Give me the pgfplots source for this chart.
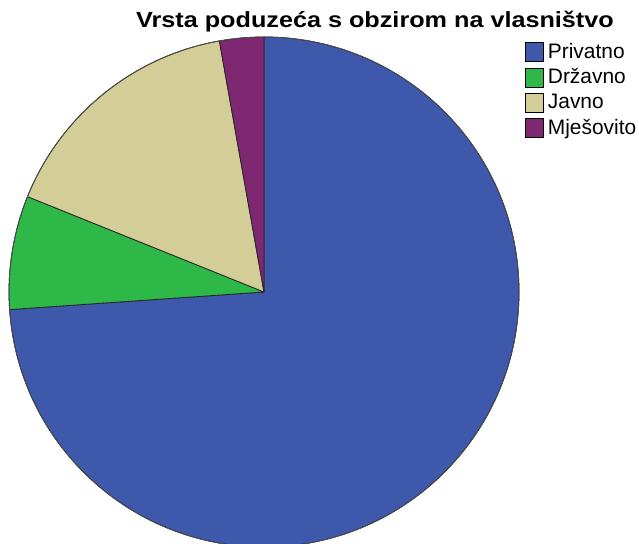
\documentclass[border=0pt]{standalone}
\usepackage{pgfplots}
\usepackage{pgfplotstable}
\pgfplotsset{compat=1.18}
\usepackage{fontspec}
\setmainfont{Liberation Sans}

\definecolor{priv}{HTML}{3E58AC}
\definecolor{drz}{HTML}{2EB848}
\definecolor{jav}{HTML}{D3CE97}
\definecolor{mje}{HTML}{7E2872}

% share of each ownership type, percent
\pgfplotstableread{
label value col
Privatno 73.9 priv
Državno 7.2 drz
Javno 16.1 jav
Mješovito 2.8 mje
}\piedata

\begin{document}
\begin{tikzpicture}
\useasboundingbox (-9bp,3bp) rectangle (630bp,547bp);
\begin{axis}[
    at={(0,0)}, anchor=south west,
    scale only axis,
    width=510bp, height=510bp,
    xmin=-1, xmax=1, ymin=-1, ymax=1,
    hide axis,
    clip=false,
    legend cell align=left,
    legend style={at={(rel axis cs:1.012,0.99)}, anchor=north west, draw=none,
        font=\fontsize{21}{24}\selectfont, fill=none,
        inner sep=0pt, row sep=5.3bp,
        nodes={text height=16bp, text depth=4bp, inner sep=0pt},
        /tikz/every odd column/.append style={column sep=4bp}},
    legend image code/.code={\draw[#1, draw=black, line width=0.6pt] (0bp,-9.5bp) rectangle (18bp,9.5bp);},
]
\pgfplotstablegetrowsof{\piedata}
\pgfmathtruncatemacro\lastrow{\pgfplotsretval-1}
\def\startangle{90}
\pgfplotsforeachungrouped \i in {0,...,\lastrow}{
  \pgfplotstablegetelem{\i}{value}\of\piedata \let\val\pgfplotsretval
  \pgfplotstablegetelem{\i}{col}\of\piedata \let\col\pgfplotsretval
  \pgfmathsetmacro\endangle{\startangle-3.6*\val}
  \edef\temp{\noexpand\filldraw[fill=\col, draw=black!85, line width=0.8pt, line join=round]
     (axis cs:0,0) -- (axis cs:{cos(\startangle)},{sin(\startangle)})
     arc[start angle=\startangle, end angle=\endangle, radius=1] -- cycle;}
  \temp
  \let\startangle\endangle
}
\draw[black!70, line width=0.8pt] (axis cs:0,0) circle[radius=1];
\pgfplotsforeachungrouped \i in {0,...,\lastrow}{
  \pgfplotstablegetelem{\i}{col}\of\piedata \let\col\pgfplotsretval
  \pgfplotstablegetelem{\i}{label}\of\piedata \let\lab\pgfplotsretval
  \edef\temp{\noexpand\addlegendimage{fill=\col}\noexpand\addlegendentry{\lab}}
  \temp
}
\end{axis}
\node[font=\fontsize{22}{26}\selectfont\bfseries, anchor=base, xscale=1.15] at (366bp,519bp) {Vrsta poduzeća s obzirom na vlasništvo};
\end{tikzpicture}
\end{document}
